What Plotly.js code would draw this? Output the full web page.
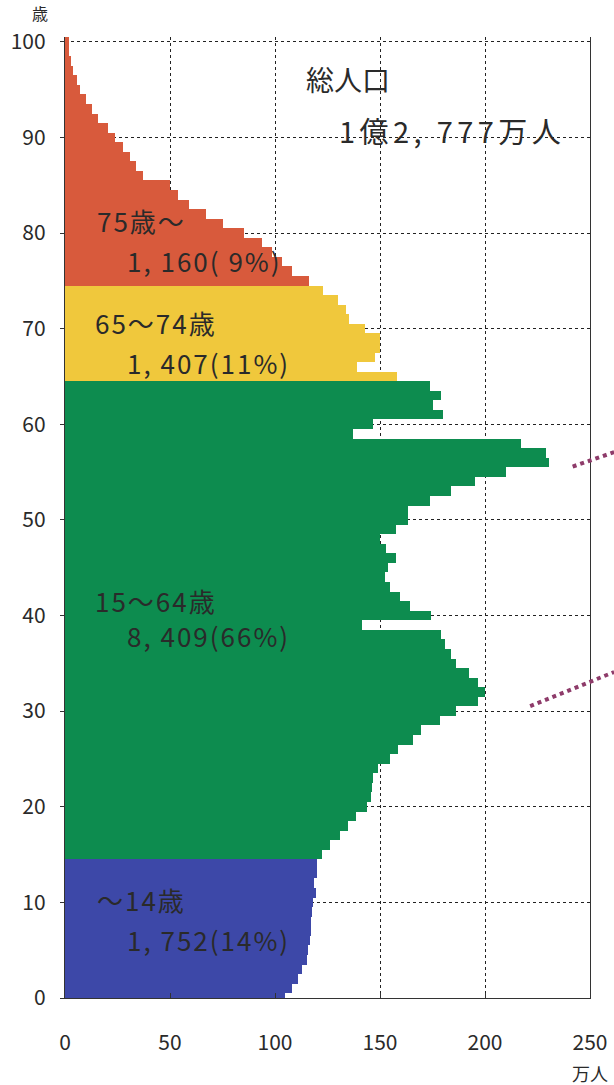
<!DOCTYPE html>
<html>
<head>
<meta charset="utf-8">
<script src="https://cdn.plot.ly/plotly-3.0.1.min.js"></script>
<style>
html,body{margin:0;padding:0;background:#fff;}
#chart{width:614px;height:1085px;}
</style>
</head>
<body>
<div id="chart"></div>
<script>
// Age groups (years of age) and population (万人)
const agesChild = [0,1,2,3,4,5,6,7,8,9,10,11,12,13,14];
const popChild  = [104.8,108,110.8,112.7,115.1,115.9,116.7,117.2,117.2,117.5,118.3,119.4,118.7,119.8,119.8];

const agesWork = [15,16,17,18,19,20,21,22,23,24,25,26,27,28,29,30,31,32,33,34,35,36,37,38,39,40,41,42,43,44,45,46,47,48,49,50,51,52,53,54,55,56,57,58,59,60,61,62,63,64];
const popWork  = [122.2,126.2,130.9,134.9,138.8,143.6,145.6,146.3,146.7,149.1,
                  154.7,158.6,165.7,169.7,178.4,186.3,196.6,200,196.6,192.6,
                  186.3,183.9,180.8,179.2,141.2,174.4,164.2,159.4,154.7,152.6,
                  153.9,157.8,153,149.9,157.8,163.3,163.4,173.6,184,195,
                  210,230.6,229,217,137.3,146.7,180,175.2,178.9,173.7];

const agesYoungOld = [65,66,67,68,69,70,71,72,73,74];
const popYoungOld  = [158,139,147.5,150,150,143,135,134,130,123];

const agesOld = [75,76,77,78,79,80,81,82,83,84,85,86,87,88,89,90,91,92,93,94,95,96,97,98,99,100];
const popOld  = [116,108,103.5,98.8,94,85.3,75.1,67.2,59.2,53.7,49.8,37.2,34,30.8,27.7,23.7,20.6,15.8,12.7,10,7.1,5.5,4,2.7,2.1,1.8];

const groupLabels = ["～14歳","15～64歳","65～74歳","75歳～"];
const groupValues = ["1, 752(14%)","8, 409(66%)","1, 407(11%)","1, 160( 9%)"];
const totalLabel = ["総人口","1億2, 777万人"];

const xTicks = [0,50,100,150,200,250];
const yTicks = [0,10,20,30,40,50,60,70,80,90,100];

const colors = ["#3d48a8","#0d8c4f","#f0c83c","#d85a3c"];

function barTrace(ages, pops, color){
  return {
    type:'bar', orientation:'h', x:pops, y:ages, width:1,
    marker:{color:color, line:{width:0}},
    hoverinfo:'skip', showlegend:false
  };
}

const data = [
  barTrace(agesChild, popChild, colors[0]),
  barTrace(agesWork, popWork, colors[1]),
  barTrace(agesYoungOld, popYoungOld, colors[2]),
  barTrace(agesOld, popOld, colors[3])
];

const font = "Noto Sans CJK JP, sans-serif";
const txtColor = "#2a2a2a";

function ann(x, y, text, size){
  return {x:x, y:y, xref:'x', yref:'y', text:text, showarrow:false,
          xanchor:'left', yanchor:'middle',
          font:{family:font, size:size, color:txtColor}};
}

const annotations = [
  ann(16, 81.3, groupLabels[3], 26),
  ann(34, 77.1, groupValues[3], 26),
  ann(16, 70.6, groupLabels[2], 26),
  ann(34, 66.5, groupValues[2], 26),
  ann(16, 41.6, groupLabels[1], 26),
  ann(34, 37.9, groupValues[1], 26),
  ann(16, 10.3, groupLabels[0], 26),
  ann(34, 6.1, groupValues[0], 26),
  ann(114, 96.1, totalLabel[0], 28),
  ann(140, 90.8, totalLabel[1], 29),
  {x:-0.047, y:1.0245, xref:'paper', yref:'paper', text:'歳', showarrow:false,
   xanchor:'center', yanchor:'middle', font:{family:font, size:16, color:txtColor}},
  {x:1.0, y:0, xref:'paper', yref:'paper', yshift:-60, text:'万人', showarrow:false,
   xanchor:'center', yanchor:'top', font:{family:font, size:18, color:txtColor}}
];
const spacing = [2,2,2,2,2,2,2,2,0,4.4,0,0];

const layout = {
  width:614, height:1085,
  margin:{l:65, r:24, t:37, b:87},
  paper_bgcolor:'#ffffff', plot_bgcolor:'#ffffff',
  barmode:'overlay', bargap:0,
  showlegend:false,
  xaxis:{
    range:[0,250], tickvals:xTicks, ticktext:xTicks.map(String),
    showgrid:true, gridcolor:'#222', griddash:'dot', gridwidth:1,
    showline:true, linecolor:'#333', linewidth:1.2, mirror:false,
    ticks:'inside', ticklen:5, tickcolor:'#333',
    ticklabelstandoff:26,
    tickfont:{family:font, size:21, color:txtColor},
    zeroline:false, fixedrange:true
  },
  yaxis:{
    range:[0,100.5], tickvals:yTicks, ticktext:yTicks.map(String),
    showgrid:true, gridcolor:'#222', griddash:'dot', gridwidth:1,
    showline:true, linecolor:'#333', linewidth:1.2, mirror:true,
    ticks:'outside', ticklen:4, tickcolor:'#333',
    ticklabelstandoff:10,
    tickfont:{family:font, size:21, color:txtColor},
    zeroline:false, fixedrange:true
  },
  shapes:[
    {type:'line', xref:'paper', yref:'paper', x0:0.967, y0:0.553, x1:1.046, y1:0.568,
     line:{color:'#8e3b6a', width:4, dash:'dot'}},
    {type:'line', xref:'paper', yref:'paper', x0:0.886, y0:0.3038, x1:1.046, y1:0.3392,
     line:{color:'#8e3b6a', width:4, dash:'dot'}}
  ],
  annotations:annotations,
  font:{family:font}
};

Plotly.newPlot('chart', data, layout, {displayModeBar:false, staticPlot:true}).then(function(gd){
  const groups = gd.querySelectorAll('.annotation');
  groups.forEach(function(g){
    const idx = parseInt(g.getAttribute('data-index'), 10);
    const sp = spacing[idx];
    if (sp) {
      const t = g.querySelector('text.annotation-text');
      if (t) t.style.letterSpacing = sp + 'px';
    }
  });
});
</script>
</body>
</html>
